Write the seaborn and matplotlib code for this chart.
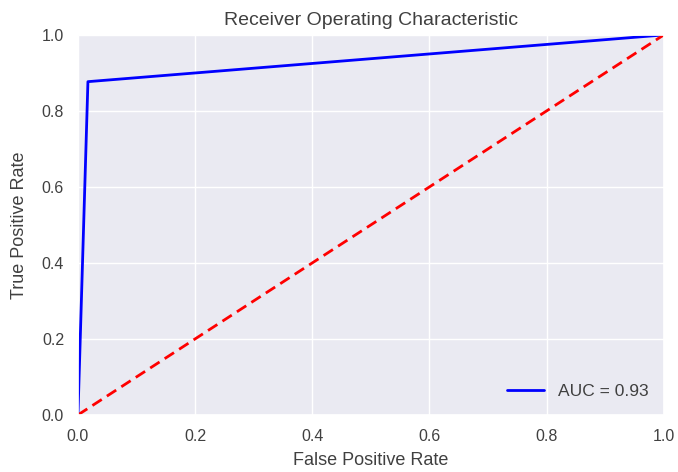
import matplotlib
matplotlib.use("Agg")
import matplotlib.pyplot as plt
import seaborn as sns
import pandas as pd

fpr = [0.0, 0.017, 1.0]
tpr = [0.0, 0.877, 1.0]
diag = [0.0, 1.0]
auc_label = "AUC = 0.93"
title = "Receiver Operating Characteristic"

sns.set_theme(style="darkgrid")
plt.rcParams['font.family'] = ['Liberation Sans', 'DejaVu Sans']
plt.rcParams['xtick.major.size'] = 0
plt.rcParams['ytick.major.size'] = 0

txt = "#404040"
fig = plt.figure(figsize=(6.78, 4.72), dpi=100)
ax = fig.add_axes([0.115, 0.121, 0.864, 0.805])

df = pd.DataFrame({"fpr": fpr, "tpr": tpr})
sns.lineplot(data=df, x="fpr", y="tpr", ax=ax, color="blue", lw=2,
             label=auc_label, sort=False, estimator=None)
sns.lineplot(x=diag, y=diag, ax=ax, color="red", lw=2, linestyle="--")
ax.lines[-1].set_dashes([4, 2.2])

ax.set_xlim(0, 1)
ax.set_ylim(0, 1)
ax.set_title(title, fontsize=14, color=txt, pad=7)
ax.set_xlabel("False Positive Rate", fontsize=13, color=txt, labelpad=6)
ax.set_ylabel("True Positive Rate", fontsize=13, color=txt, labelpad=10)
ax.tick_params(labelsize=11.5, colors=txt, pad=10)
leg = ax.legend(loc="lower right", frameon=False, fontsize=12.5, handlelength=2.1)
for t in leg.get_texts():
    t.set_color(txt)

fig.savefig("out.png", dpi=100)
